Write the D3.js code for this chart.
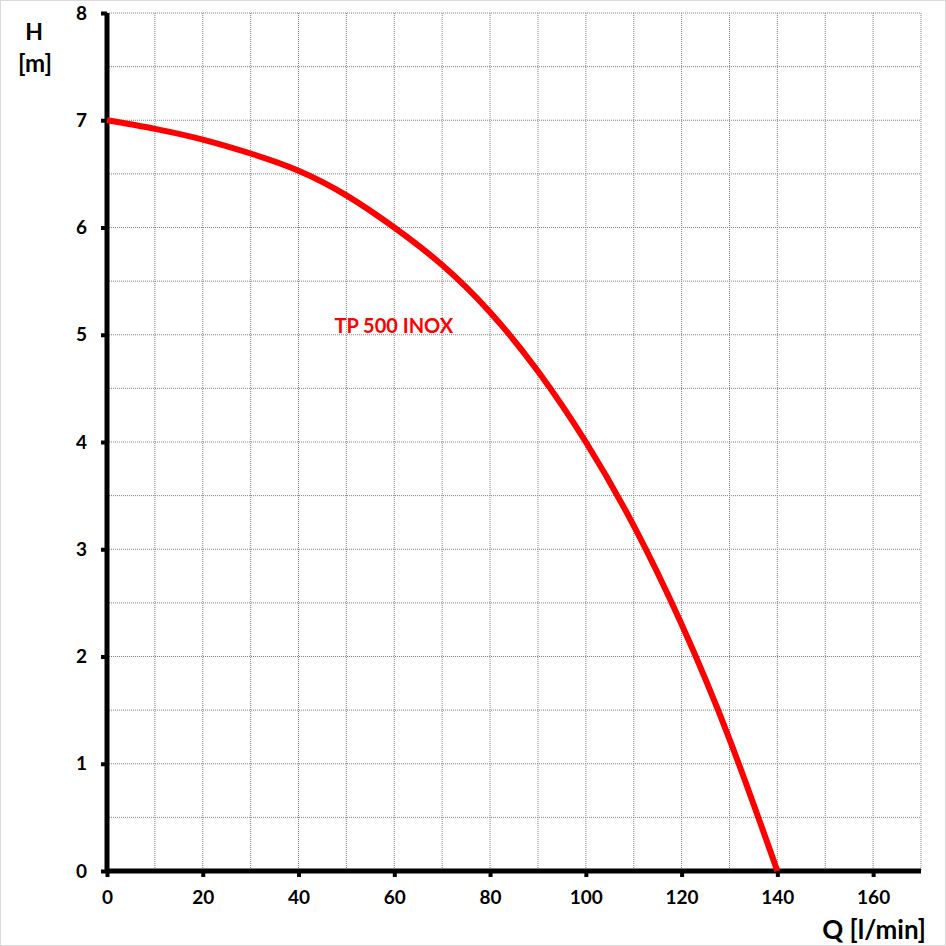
<!DOCTYPE html>
<meta charset="utf-8">
<script src="https://cdn.jsdelivr.net/npm/d3@7"></script>
<style>
    body { margin: 0; background: #fff; }
    text { font-family: Lato, "Open Sans", sans-serif; font-weight: bold; }
</style>
<div id="chart"></div>
<script>
    // pump curve
    const flow = [0, 10, 20, 30, 40, 50, 60, 70, 80, 90, 100, 110, 120, 130, 140];
    const head = [7.0, 6.92, 6.82, 6.69, 6.53, 6.3, 6.0, 5.65, 5.21, 4.66, 4.0, 3.22, 2.3, 1.23, 0];
    const xTicks = [0, 20, 40, 60, 80, 100, 120, 140, 160];
    const yTicks = [0, 1, 2, 3, 4, 5, 6, 7, 8];
    const seriesName = "TP 500 INOX";

    const W = 946, H = 946;
    const margin = {top: 13, right: 25, bottom: 75, left: 107};
    const width = W - margin.left - margin.right,
        height = H - margin.top - margin.bottom;

    const svg = d3.select("#chart").append("svg")
        .attr("width", W)
        .attr("height", H);

    svg.append("rect")
        .attr("x", 0.5).attr("y", 0.5)
        .attr("width", W - 1).attr("height", H - 1)
        .attr("fill", "#fff")
        .attr("stroke", "#d9d9d9");

    const g = svg.append("g")
        .attr("transform", `translate(${margin.left},${margin.top})`);

    const x = d3.scaleLinear().domain([0, 170]).range([0, width]);
    const y = d3.scaleLinear().domain([0, 8]).range([height, 0]);

    // grid
    g.append("g").selectAll("line")
        .data(d3.range(10, 171, 10))
        .join("line")
        .attr("x1", d => x(d)).attr("x2", d => x(d))
        .attr("y1", 0).attr("y2", height)
        .attr("stroke", "#808080")
        .attr("stroke-width", 1)
        .attr("stroke-dasharray", "1,1");

    g.append("g").selectAll("line")
        .data(d3.range(0.5, 8.01, 0.5))
        .join("line")
        .attr("x1", 0).attr("x2", width)
        .attr("y1", d => y(d)).attr("y2", d => y(d))
        .attr("stroke", "#808080")
        .attr("stroke-width", 1)
        .attr("stroke-dasharray", "1,1");

    // axes
    const xAxis = d3.axisBottom(x).tickValues(xTicks).tickSize(6).tickPadding(14);
    const yAxis = d3.axisLeft(y).tickValues(yTicks).tickSize(6).tickPadding(14);

    const gx = g.append("g").attr("transform", `translate(0,${height})`).call(xAxis);
    const gy = g.append("g").call(yAxis);

    [gx, gy].forEach(a => {
        a.select(".domain").attr("stroke", "#000").attr("stroke-width", 5);
        a.selectAll(".tick line").attr("stroke", "#000").attr("stroke-width", 4);
        a.selectAll(".tick text")
            .attr("fill", "#000")
            .style("font-size", "19px")
            .style("font-family", "Lato, 'Open Sans', sans-serif")
            .style("font-weight", "bold");
    });
    gy.select(".domain").attr("d", `M0,${height}V0`);
    gx.select(".domain").attr("d", `M0,0H${width}`);

    // curve
    const pts = flow.map((q, i) => [q, head[i]]);
    g.append("path")
        .datum(pts)
        .attr("fill", "none")
        .attr("stroke", "#ff0000")
        .attr("stroke-width", 6)
        .attr("d", d3.line().x(d => x(d[0])).y(d => y(d[1])).curve(d3.curveNatural));

    g.append("text")
        .attr("x", x(47.5))
        .attr("y", y(5.02))
        .attr("fill", "#ff0000")
        .style("font-size", "20px")
        .text(seriesName);

    // axis titles
    svg.append("text").attr("x", 34).attr("y", 40).attr("text-anchor", "middle")
        .style("font-size", "23px").text("H");
    svg.append("text").attr("x", 35).attr("y", 72).attr("text-anchor", "middle")
        .style("font-size", "24px").text("[m]");
    svg.append("text").attr("x", 926).attr("y", 939).attr("text-anchor", "end")
        .style("font-size", "26px").text("Q [l/min]");
</script>
